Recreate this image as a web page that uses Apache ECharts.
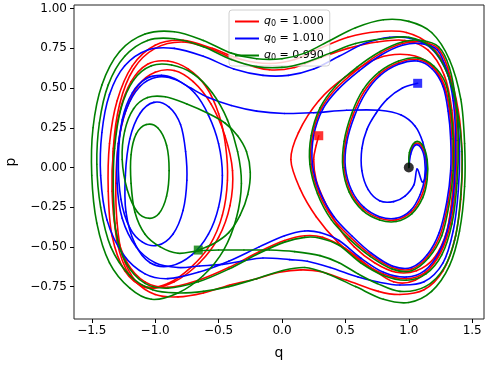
<!DOCTYPE html>
<html><head><meta charset="utf-8">
<script src="https://cdn.jsdelivr.net/npm/echarts@6/dist/echarts.min.js"></script>
<style>html,body{margin:0;padding:0;background:#fff}#c{width:489px;height:370px}</style>
</head><body><div id="c"></div>
<script>
// ---- data (q, p) ----
const seriesNames = ['q0 = 1.000', 'q0 = 1.010', 'q0 = 0.990'];
const legendValues = ['1.000', '1.010', '0.990'];
const xTicks = [-1.5, -1.0, -0.5, 0.0, 0.5, 1.0, 1.5];
const yTicks = [-0.75, -0.5, -0.25, 0.0, 0.25, 0.5, 0.75, 1.0];
const startPoint = [[1.0, 0.0]];
const redEnd = [[0.29, 0.20]];
const blueEnd = [[1.07, 0.53]];
const greenEnd = [[-0.66, -0.52]];

const redStart = [[1.00,0.00],[1.01,0.09],[1.05,0.15],[1.10,0.135],[1.135,0.05],[1.135,-0.07],[1.10,-0.18],[1.02,-0.28],[0.90,-0.33],[0.77,-0.32],[0.64,-0.26],[0.54,-0.15],[0.49,0.00],[0.50,0.16],[0.56,0.33],[0.65,0.48],[0.77,0.59],[0.92,0.66],[1.07,0.68],[1.19,0.63],[1.28,0.52],[1.32,0.36],[1.34,0.18],[1.34,-0.02],[1.31,-0.22],[1.25,-0.42],[1.15,-0.56],[1.02,-0.64],[0.87,-0.63],[0.70,-0.55],[0.54,-0.44],[0.40,-0.32],[0.29,-0.16],[0.23,0.02],[0.24,0.2],[0.31,0.37],[0.43,0.50],[0.60,0.62],[0.78,0.72],[0.95,0.78],[1.10,0.79],[1.23,0.75],[1.31,0.62],[1.36,0.42],[1.38,0.17],[1.37,-0.10],[1.33,-0.35],[1.25,-0.54],[1.13,-0.66],[0.98,-0.70],[0.80,-0.67]];
const redLoops = [[0.62,-0.59],[0.44,-0.47],[0.27,-0.31],[0.14,-0.13],[0.07,0.05],[0.13,0.22],[0.29,0.42],[0.50,0.57],[0.76,0.69],[1.00,0.71],[1.17,0.65],[1.28,0.50],[1.34,0.30],[1.36,0.05],[1.34,-0.20],[1.29,-0.44],[1.19,-0.61],[1.05,-0.71],[0.88,-0.72],
 [0.70,-0.63],[0.50,-0.51],[0.32,-0.44],[0.18,-0.43],[0.02,-0.46],[-0.18,-0.53],[-0.42,-0.63],[-0.66,-0.71],[-0.90,-0.755],[-1.08,-0.72],[-1.22,-0.60],
 [-1.31,-0.40],[-1.34,-0.15],[-1.33,0.10],[-1.28,0.35],[-1.19,0.54],[-1.06,0.65],[-0.90,0.67],[-0.74,0.62],[-0.60,0.51],[-0.50,0.34],[-0.445,0.14],[-0.43,-0.08],[-0.47,-0.30],[-0.57,-0.49],[-0.72,-0.63],[-0.90,-0.73],[-1.08,-0.75],[-1.24,-0.65],
 [-1.34,-0.43],[-1.37,-0.15],[-1.36,0.15],[-1.30,0.42],[-1.18,0.64],[-1.00,0.77],[-0.78,0.80],[-0.55,0.75],[-0.32,0.68],[-0.10,0.655],[0.10,0.68],[0.30,0.75],[0.52,0.82],
 [0.75,0.855],[0.98,0.85],[1.17,0.77],[1.31,0.60],[1.39,0.36],[1.42,0.08],[1.41,-0.20],[1.36,-0.46],[1.27,-0.65],[1.12,-0.77],[0.93,-0.80],[0.76,-0.78],
 [0.51,-0.71],[0.30,-0.655],[0.15,-0.645],[-0.02,-0.66],[-0.20,-0.70],[-0.41,-0.74],[-0.62,-0.79],[-0.82,-0.815],[-1.00,-0.80],[-1.15,-0.72],[-1.26,-0.55],
 [-1.30,-0.35],[-1.31,-0.10],[-1.29,0.15],[-1.23,0.36],[-1.13,0.52],[-1.00,0.60],[-0.85,0.61],[-0.70,0.54],[-0.56,0.40],[-0.45,0.20],[-0.39,-0.02],[-0.41,-0.24],[-0.50,-0.44],[-0.65,-0.60],[-0.85,-0.72],[-1.05,-0.76],[-1.20,-0.68],
 [-1.30,-0.47],[-1.33,-0.18],[-1.33,0.12],[-1.28,0.40],[-1.17,0.62],[-1.00,0.75],[-0.78,0.79],[-0.54,0.74],[-0.32,0.66],[-0.10,0.615],[0.10,0.63],[0.30,0.69],[0.52,0.75],
 [0.75,0.79],[0.97,0.80],[1.15,0.74],[1.28,0.58],[1.34,0.36],[1.36,0.10],[1.35,-0.15],[1.30,-0.40],[1.20,-0.57],[1.06,-0.65],[0.90,-0.66],[0.73,-0.60],[0.57,-0.50],[0.44,-0.37],[0.34,-0.22],[0.27,-0.08],[0.25,0.05],[0.27,0.14],[0.29,0.20]];

const blueStart = [[1.00,0.00],[1.015,0.085],[1.05,0.14],[1.095,0.125],[1.125,0.05],[1.125,-0.065],[1.09,-0.17],[1.015,-0.27],[0.90,-0.32],[0.77,-0.31],[0.645,-0.25],[0.55,-0.145],[0.50,0.00],[0.51,0.155],[0.57,0.32],[0.66,0.47],[0.775,0.58],[0.92,0.65],[1.07,0.67],[1.185,0.62],[1.27,0.51],[1.31,0.355],[1.33,0.18],[1.33,-0.02],[1.30,-0.215],[1.24,-0.41],[1.145,-0.55],[1.02,-0.63],[0.87,-0.62],[0.705,-0.54],[0.55,-0.43],[0.41,-0.31],[0.30,-0.155],[0.24,0.02],[0.25,0.2],[0.32,0.365],[0.44,0.49],[0.61,0.61],[0.785,0.71],[0.95,0.77],[1.10,0.78],[1.225,0.74],[1.30,0.61],[1.35,0.42],[1.37,0.17],[1.36,-0.10],[1.32,-0.345],[1.24,-0.53],[1.125,-0.65],[0.98,-0.69],[0.80,-0.66]];
const blueLoops = [[0.62,-0.57],[0.45,-0.46],[0.30,-0.41],[0.18,-0.40],[0.02,-0.43],[-0.18,-0.50],[-0.42,-0.59],[-0.66,-0.66],[-0.90,-0.70],[-1.08,-0.67],[-1.25,-0.55],
 [-1.38,-0.33],[-1.43,-0.05],[-1.42,0.22],[-1.36,0.46],[-1.24,0.64],[-1.06,0.74],[-0.85,0.75],[-0.62,0.70],[-0.38,0.62],[-0.15,0.58],[0.05,0.58],[0.25,0.62],[0.45,0.70],[0.65,0.78],
 [0.85,0.82],[1.03,0.81],[1.19,0.74],[1.31,0.58],[1.38,0.35],[1.40,0.10],[1.39,-0.15],[1.35,-0.40],[1.27,-0.60],[1.12,-0.72],[0.93,-0.74],[0.75,-0.72],
 [0.60,-0.69],[0.38,-0.63],[0.20,-0.59],[0.06,-0.58],[-0.15,-0.57],[-0.32,-0.59],[-0.47,-0.61],[-0.65,-0.62],[-0.82,-0.63],[-1.00,-0.60],[-1.15,-0.50],[-1.26,-0.32],
 [-1.30,-0.10],[-1.29,0.15],[-1.23,0.36],[-1.12,0.51],[-0.98,0.57],[-0.83,0.55],[-0.69,0.47],[-0.58,0.33],[-0.50,0.15],[-0.47,-0.05],[-0.50,-0.25],[-0.58,-0.42],[-0.71,-0.55],[-0.88,-0.62],[-1.04,-0.60],[-1.16,-0.48],
 [-1.23,-0.28],[-1.235,-0.05],[-1.20,0.18],[-1.12,0.34],[-1.01,0.41],[-0.89,0.38],[-0.80,0.27],[-0.76,0.10],[-0.75,-0.08],[-0.78,-0.27],[-0.86,-0.42],[-0.98,-0.49],[-1.10,-0.47],[-1.20,-0.38],
 [-1.27,-0.20],[-1.29,0.05],[-1.26,0.30],[-1.18,0.47],[-1.07,0.56],[-0.95,0.58],[-0.85,0.56],[-0.72,0.50],[-0.58,0.44],[-0.40,0.39],[-0.20,0.355],[0.02,0.34],[0.25,0.345],[0.51,0.36],[0.77,0.36],[0.94,0.33],[1.05,0.26],[1.11,0.16],[1.14,0.04],[1.13,-0.06],[1.105,-0.09],[1.065,-0.01],
 [1.04,-0.11],[0.97,-0.18],[0.88,-0.215],[0.77,-0.21],[0.68,-0.14],[0.63,-0.02],[0.63,0.12],[0.67,0.24],[0.74,0.34],[0.83,0.43],[0.95,0.50],[1.07,0.53]];

const greenStart = [[1.00,0.00],[1.005,0.095],[1.05,0.16],[1.105,0.145],[1.145,0.05],[1.145,-0.075],[1.11,-0.19],[1.025,-0.29],[0.90,-0.34],[0.77,-0.33],[0.635,-0.27],[0.53,-0.155],[0.48,0.00],[0.49,0.165],[0.55,0.34],[0.64,0.49],[0.765,0.60],[0.92,0.67],[1.07,0.69],[1.195,0.64],[1.29,0.53],[1.33,0.365],[1.35,0.18],[1.35,-0.02],[1.32,-0.225],[1.26,-0.43],[1.155,-0.57],[1.02,-0.65],[0.87,-0.64],[0.695,-0.56],[0.53,-0.45],[0.39,-0.33],[0.28,-0.165],[0.22,0.02],[0.23,0.2],[0.30,0.375],[0.42,0.51],[0.59,0.63],[0.775,0.73],[0.95,0.79],[1.10,0.80],[1.235,0.76],[1.32,0.63],[1.37,0.42],[1.39,0.17],[1.38,-0.10],[1.34,-0.355],[1.26,-0.55],[1.135,-0.67],[0.98,-0.71],[0.80,-0.68]];
const greenLoops = [[0.62,-0.60],[0.45,-0.49],[0.30,-0.445],[0.18,-0.44],[0.02,-0.47],[-0.18,-0.54],[-0.42,-0.64],[-0.66,-0.72],[-0.90,-0.76],[-1.08,-0.73],[-1.23,-0.60],
 [-1.31,-0.40],[-1.33,-0.14],[-1.32,0.12],[-1.27,0.37],[-1.17,0.55],[-1.03,0.64],[-0.87,0.645],[-0.70,0.59],[-0.55,0.47],[-0.43,0.30],[-0.35,0.10],[-0.32,-0.10],[-0.36,-0.32],[-0.46,-0.52],[-0.62,-0.68],[-0.82,-0.79],[-1.03,-0.83],[-1.20,-0.76],
 [-1.36,-0.60],[-1.46,-0.35],[-1.50,-0.05],[-1.49,0.25],[-1.42,0.52],[-1.28,0.73],[-1.08,0.84],[-0.85,0.855],[-0.62,0.80],[-0.40,0.72],[-0.20,0.685],[0.00,0.685],[0.18,0.72],[0.38,0.80],[0.58,0.88],
 [0.80,0.93],[1.00,0.92],[1.18,0.85],[1.32,0.68],[1.41,0.43],[1.44,0.15],[1.44,-0.12],[1.40,-0.40],[1.32,-0.62],[1.18,-0.78],[1.00,-0.85],[0.80,-0.83],
 [0.58,-0.75],[0.36,-0.67],[0.18,-0.63],[0.00,-0.65],[-0.20,-0.70],[-0.42,-0.75],[-0.62,-0.78],[-0.82,-0.79],[-1.02,-0.77],[-1.20,-0.68],[-1.35,-0.50],
 [-1.43,-0.25],[-1.46,0.02],[-1.44,0.28],[-1.37,0.52],[-1.24,0.70],[-1.06,0.80],[-0.85,0.81],[-0.62,0.76],[-0.40,0.68],[-0.20,0.635],[0.00,0.63],[0.18,0.66],[0.38,0.72],[0.58,0.78],
 [0.80,0.81],[1.00,0.82],[1.17,0.76],[1.30,0.60],[1.38,0.37],[1.42,0.10],[1.41,-0.17],[1.37,-0.43],[1.28,-0.63],[1.13,-0.75],[0.93,-0.78],[0.75,-0.73],
 [0.60,-0.67],[0.45,-0.60],[0.30,-0.555],[0.10,-0.53],[-0.10,-0.52],[-0.30,-0.52],[-0.50,-0.52],[-0.66,-0.525],[-0.82,-0.54],[-0.96,-0.50],[-1.08,-0.42],
 [-1.16,-0.28],[-1.19,-0.10],[-1.19,0.08],[-1.15,0.21],[-1.07,0.27],[-0.98,0.25],[-0.91,0.14],[-0.89,-0.02],[-0.91,-0.18],[-0.97,-0.29],[-1.05,-0.32],[-1.14,-0.28],[-1.22,-0.14],[-1.26,0.05],[-1.24,0.23],[-1.17,0.37],[-1.06,0.44],[-0.92,0.445],[-0.75,0.40],[-0.58,0.34],[-0.45,0.28],[-0.35,0.20],[-0.28,0.10],[-0.25,-0.03],[-0.27,-0.17],[-0.33,-0.30],[-0.42,-0.41],[-0.54,-0.48],[-0.66,-0.52]];

const colors = ['#ff0000', '#0000ff', '#008000'];
const paths = [redStart.concat(redLoops), blueStart.concat(blueLoops), greenStart.concat(greenLoops)];
const ends = [redEnd, blueEnd, greenEnd];

const fmtX = v => (v < 0 ? '\u2212' : '') + Math.abs(v).toFixed(1);
const fmtY = v => (v < 0 ? '\u2212' : '') + Math.abs(v).toFixed(2);
const font = 'DejaVu Sans';

// smooth curve through the data points (Catmull-Rom drawn as cubic Bezier segments in pixel space)
function curveRenderer(path, color) {
  return function (params, api) {
    const i = params.dataIndex;
    const n = path.length;
    if (i >= n - 1) return null;
    const P = k => api.coord(path[Math.max(0, Math.min(n - 1, k))]);
    const p0 = P(i - 1), p1 = P(i), p2 = P(i + 1), p3 = P(i + 2);
    const t = 1 / 6;
    return {
      type: 'bezierCurve',
      shape: {
        x1: p1[0], y1: p1[1], x2: p2[0], y2: p2[1],
        cpx1: p1[0] + (p2[0] - p0[0]) * t, cpy1: p1[1] + (p2[1] - p0[1]) * t,
        cpx2: p2[0] - (p3[0] - p1[0]) * t, cpy2: p2[1] - (p3[1] - p1[1]) * t
      },
      style: {stroke: color, lineWidth: 1.6, fill: null, lineCap: 'round'},
      silent: true
    };
  };
}

const chart = echarts.init(document.getElementById('c'), null, {renderer: 'canvas'});
const series = [];
paths.forEach((d, i) => series.push({
  name: seriesNames[i], type: 'custom', data: d, encode: {x: 0, y: 1}, clip: true,
  renderItem: curveRenderer(d, colors[i]), itemStyle: {color: colors[i]}, z: 2 + i, animation: false
}));
ends.forEach((d, i) => series.push({
  type: 'scatter', data: d, symbol: 'rect', symbolSize: 9, itemStyle: {color: colors[i]}, z: 10, animation: false
}));
series.push({type: 'scatter', data: startPoint, symbol: 'circle', symbolSize: 10, itemStyle: {color: '#000'}, z: 11, animation: false});

chart.setOption({
  animation: false,
  grid: {left: 74, right: 5, top: 5, bottom: 51, outerBoundsMode: 'none', containLabel: false,
    show: true, borderColor: '#222', borderWidth: 1, backgroundColor: 'transparent'},
  xAxis: {type: 'value', min: -1.64, max: 1.593, name: 'q', nameLocation: 'middle', nameGap: 27,
    nameTextStyle: {fontFamily: font, fontSize: 14, color: '#000'},
    axisLine: {show: false, onZero: false}, splitLine: {show: false},
    axisTick: {show: true, inside: false, length: 4, lineStyle: {color: '#000'}, customValues: xTicks},
    axisLabel: {customValues: xTicks, formatter: fmtX, fontFamily: font, fontSize: 12, color: '#000', margin: 6}},
  yAxis: {type: 'value', min: -0.954, max: 1.023, name: 'p', nameLocation: 'middle', nameGap: 56,
    nameTextStyle: {fontFamily: font, fontSize: 14, color: '#000'},
    axisLine: {show: false, onZero: false}, splitLine: {show: false},
    axisTick: {show: true, inside: false, length: 4, lineStyle: {color: '#000'}, customValues: yTicks},
    axisLabel: {customValues: yTicks, formatter: fmtY, fontFamily: font, fontSize: 12, color: '#000', margin: 7}},
  legend: {data: seriesNames.map(n => ({name: n, icon: 'rect'})), orient: 'vertical', left: 229, top: 10,
    itemWidth: 24, itemHeight: 2, itemGap: 5, padding: [6, 6, 4, 6],
    backgroundColor: 'rgba(255,255,255,0.8)', borderColor: '#d0d0d0', borderWidth: 1, borderRadius: 3,
    formatter: n => '{i|q}{s|0} = ' + legendValues[seriesNames.indexOf(n)],
    textStyle: {fontFamily: font, fontSize: 11, color: '#000',
      rich: {i: {fontFamily: font, fontStyle: 'italic', fontSize: 11}, s: {fontFamily: font, fontSize: 8, padding: [5, 0, 0, 0]}}}},
  series: series
});
</script></body></html>
